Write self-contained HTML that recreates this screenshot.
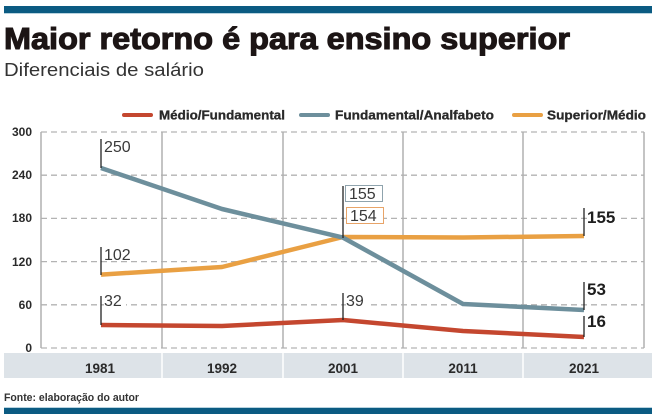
<!DOCTYPE html>
<html><head><meta charset="utf-8"><style>
html,body{margin:0;padding:0;background:#fff;}
svg{display:block;font-family:"Liberation Sans",sans-serif;}
</style></head><body>
<svg width="659" height="414" viewBox="0 0 659 414" xmlns="http://www.w3.org/2000/svg">
<rect x="0" y="0" width="659" height="414" fill="#fff"/>
<!-- top bar -->
<rect x="4" y="6" width="648" height="7" fill="#0b5b82"/>
<rect x="4" y="13" width="648" height="1" fill="#b8d3df"/>
<!-- title -->
<text x="4" y="49" font-size="31" font-weight="bold" fill="#1c1515" stroke="#1c1515" stroke-width="1.1" textLength="566" lengthAdjust="spacingAndGlyphs">Maior retorno é para ensino superior</text>
<text x="4" y="76" font-size="18" fill="#333" textLength="200" lengthAdjust="spacingAndGlyphs">Diferenciais de salário</text>
<!-- legend -->
<line x1="124" y1="115" x2="151" y2="115" stroke="#c4472f" stroke-width="4" stroke-linecap="round"/>
<text x="159" y="119.5" font-size="12.5" font-weight="bold" fill="#2a2a2a" stroke="#2a2a2a" stroke-width="0.3" textLength="126" lengthAdjust="spacingAndGlyphs">Médio/Fundamental</text>
<line x1="301" y1="115" x2="328" y2="115" stroke="#6d8f9c" stroke-width="4" stroke-linecap="round"/>
<text x="335" y="119.5" font-size="12.5" font-weight="bold" fill="#2a2a2a" stroke="#2a2a2a" stroke-width="0.3" textLength="159" lengthAdjust="spacingAndGlyphs">Fundamental/Analfabeto</text>
<line x1="514" y1="115" x2="541" y2="115" stroke="#e9a043" stroke-width="4" stroke-linecap="round"/>
<text x="547" y="119.5" font-size="12.5" font-weight="bold" fill="#2a2a2a" stroke="#2a2a2a" stroke-width="0.3" textLength="99" lengthAdjust="spacingAndGlyphs">Superior/Médio</text>
<!-- horizontal dashed gridlines -->
<g stroke="#b3b3b3" stroke-width="1.3" stroke-dasharray="6,4">
<line x1="41" y1="132" x2="644" y2="132"/>
<line x1="41" y1="175.2" x2="644" y2="175.2"/>
<line x1="41" y1="218.4" x2="644" y2="218.4"/>
<line x1="41" y1="261.6" x2="644" y2="261.6"/>
<line x1="41" y1="304.8" x2="644" y2="304.8"/>
<line x1="41" y1="348" x2="644" y2="348"/>
</g>
<!-- vertical lines -->
<g stroke="#b0b0b0" stroke-width="1.5">
<line x1="41" y1="132" x2="41" y2="348"/>
<line x1="162" y1="132" x2="162" y2="348"/>
<line x1="283" y1="132" x2="283" y2="348"/>
<line x1="403" y1="132" x2="403" y2="348"/>
<line x1="523" y1="132" x2="523" y2="348"/>
<line x1="644" y1="132" x2="644" y2="348"/>
</g>
<!-- y labels -->
<g font-size="12" font-weight="bold" fill="#2a2a2a" text-anchor="end">
<text x="32" y="136">300</text>
<text x="32" y="179">240</text>
<text x="32" y="222">180</text>
<text x="32" y="266">120</text>
<text x="32" y="309">60</text>
<text x="32" y="352">0</text>
</g>
<!-- category band -->
<rect x="4" y="353" width="648" height="25" fill="#dde3e8"/>
<g stroke="#fff" stroke-width="1.5">
<line x1="162" y1="353" x2="162" y2="378"/>
<line x1="283" y1="353" x2="283" y2="378"/>
<line x1="403" y1="353" x2="403" y2="378"/>
<line x1="523" y1="353" x2="523" y2="378"/>
</g>
<g font-size="13.5" font-weight="bold" fill="#2a2a2a" text-anchor="middle">
<text x="100" y="373">1981</text>
<text x="222" y="373">1992</text>
<text x="343" y="373">2001</text>
<text x="463" y="373">2011</text>
<text x="584" y="373">2021</text>
</g>
<!-- label backgrounds -->
<g fill="#fff">
<rect x="104" y="140" width="32" height="15"/>
<rect x="104" y="246" width="32" height="15"/>
<rect x="104" y="294" width="22" height="15"/>
<rect x="346" y="294" width="22" height="15"/>
<rect x="587" y="209" width="32" height="15"/>
<rect x="587" y="282" width="24" height="15"/>
</g>
<!-- series -->
<polyline points="101,325 222,326 343,320 463,331 584,337" fill="none" stroke="#c4472f" stroke-width="4.5" stroke-linejoin="round"/>
<polyline points="101,274.6 222,267 343,237 463,237.5 584,236" fill="none" stroke="#e9a043" stroke-width="4.5" stroke-linejoin="round"/>
<polyline points="101,168 222,209 343,237.6 463,304 584,310" fill="none" stroke="#6d8f9c" stroke-width="4.5" stroke-linejoin="round"/>
<!-- annotation ticks -->
<g stroke="#222" stroke-width="1.3">
<line x1="101" y1="139" x2="101" y2="168"/>
<line x1="101" y1="247" x2="101" y2="275"/>
<line x1="101" y1="296" x2="101" y2="325"/>
<line x1="343" y1="186" x2="343" y2="238"/>
<line x1="343" y1="293" x2="343" y2="320"/>
<line x1="584" y1="208" x2="584" y2="236"/>
<line x1="584" y1="282" x2="584" y2="310"/>
<line x1="584" y1="316" x2="584" y2="337"/>
</g>
<!-- annotation labels -->
<g font-size="16" fill="#3a3a3a">
<text x="104" y="152">250</text>
<text x="104" y="260">102</text>
<text x="104" y="306">32</text>
<text x="346" y="306">39</text>
</g>
<rect x="345.5" y="185.5" width="37" height="16" fill="#fff" stroke="#8fa3ad" stroke-width="1"/>
<text x="349" y="199" font-size="16" fill="#3a3a3a">155</text>
<rect x="346.5" y="207.5" width="37" height="16" fill="#fff" stroke="#e8a468" stroke-width="1"/>
<text x="350" y="221" font-size="16" fill="#3a3a3a">154</text>
<g font-size="17" font-weight="bold" fill="#1e1e1e">
<text x="587" y="223">155</text>
<text x="587" y="295">53</text>
<text x="587" y="327">16</text>
</g>
<!-- footer -->
<text x="4" y="401" font-size="11" font-weight="bold" fill="#333" textLength="135" lengthAdjust="spacingAndGlyphs">Fonte: elaboração do autor</text>
<rect x="4" y="407" width="648" height="1" fill="#b8d3df"/>
<rect x="4" y="408" width="648" height="6" fill="#0b5b82"/>
</svg>
</body></html>
